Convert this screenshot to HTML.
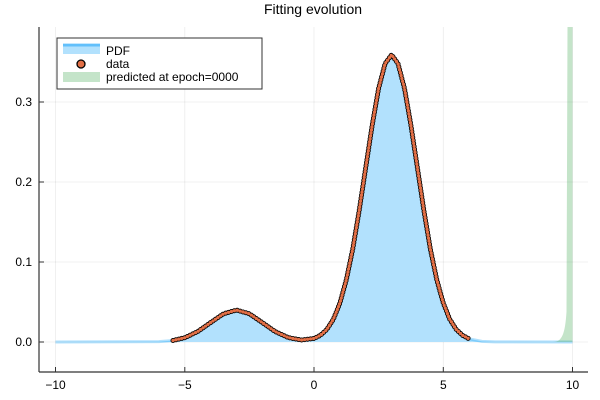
<!DOCTYPE html>
<html><head><style>body{margin:0;background:#fff}svg{display:block;font-family:"Liberation Sans",sans-serif}</style></head>
<body>
<svg width="600" height="400" xmlns="http://www.w3.org/2000/svg">
<rect width="600" height="400" fill="#fff"/>
<text x="313" y="14" font-size="14" text-anchor="middle" fill="#000">Fitting evolution</text>
<g stroke="#000" stroke-opacity="0.08" stroke-width="0.8">
<line x1="55.5" y1="27" x2="55.5" y2="372"/><line x1="184.8" y1="27" x2="184.8" y2="372"/><line x1="314" y1="27" x2="314" y2="372"/><line x1="443.3" y1="27" x2="443.3" y2="372"/><line x1="572.5" y1="27" x2="572.5" y2="372"/>
<line x1="39" y1="342" x2="588" y2="342"/><line x1="39" y1="262" x2="588" y2="262"/><line x1="39" y1="182" x2="588" y2="182"/><line x1="39" y1="102" x2="588" y2="102"/>
</g>
<path d="M55.5,342 L158.9,341.6 L171.8,340.6 L184.8,337.7 L197.7,331.6 L210.6,322.6 L223.5,313.8 L236.5,310.1 L249.4,313.8 L262.3,322.6 L275.2,331.6 L288.2,337.6 L301.1,340 L314,338.5 L320.5,335.3 L326.9,329.4 L333.4,319.2 L339.9,303.1 L346.3,279.9 L352.8,248.8 L359.2,210.5 L365.7,167.8 L372.2,125.2 L378.6,88.5 L385.1,63.6 L391.6,54.8 L398,63.6 L404.5,88.5 L410.9,125.2 L417.4,167.8 L423.9,210.5 L430.3,248.8 L436.8,279.9 L443.3,303.1 L449.7,319.2 L456.2,329.4 L462.6,335.4 L469.1,338.8 L482,341.4 L495,341.9 L572.5,342 Z" fill="rgb(178,225,253)"/>
<path d="M55.5,342 L158.9,341.6 L171.8,340.6 L184.8,337.7 L197.7,331.6 L210.6,322.6 L223.5,313.8 L236.5,310.1 L249.4,313.8 L262.3,322.6 L275.2,331.6 L288.2,337.6 L301.1,340 L314,338.5 L320.5,335.3 L326.9,329.4 L333.4,319.2 L339.9,303.1 L346.3,279.9 L352.8,248.8 L359.2,210.5 L365.7,167.8 L372.2,125.2 L378.6,88.5 L385.1,63.6 L391.6,54.8 L398,63.6 L404.5,88.5 L410.9,125.2 L417.4,167.8 L423.9,210.5 L430.3,248.8 L436.8,279.9 L443.3,303.1 L449.7,319.2 L456.2,329.4 L462.6,335.4 L469.1,338.8 L482,341.4 L495,341.9 L572.5,342" fill="none" stroke="rgba(0,154,249,0.3)" stroke-width="3"/>
<path d="M553,342 C562,342 565,334 566.5,312 L567.5,27 L572.5,27 L572.5,342 Z" fill="rgba(61,164,77,0.3)"/>
<g fill="none" stroke-linecap="round" stroke-dasharray="0 3">
<path d="M173,340.5 L184.8,337.7 L197.7,331.6 L210.6,322.6 L223.5,313.8 L236.5,310.1 L249.4,313.8 L262.3,322.6 L275.2,331.6 L288.2,337.6 L301.1,340 L314,338.5 L320.5,335.3 L326.9,329.4 L333.4,319.2 L339.9,303.1 L346.3,279.9 L352.8,248.8 L359.2,210.5 L365.7,167.8 L372.2,125.2 L378.6,88.5 L385.1,63.6 L391.6,54.8 L398,63.6 L404.5,88.5 L410.9,125.2 L417.4,167.8 L423.9,210.5 L430.3,248.8 L436.8,279.9 L443.3,303.1 L449.7,319.2 L456.2,329.4 L462.6,335.4 L469,338.8" stroke="#000" stroke-width="5"/>
<path d="M173,340.5 L184.8,337.7 L197.7,331.6 L210.6,322.6 L223.5,313.8 L236.5,310.1 L249.4,313.8 L262.3,322.6 L275.2,331.6 L288.2,337.6 L301.1,340 L314,338.5 L320.5,335.3 L326.9,329.4 L333.4,319.2 L339.9,303.1 L346.3,279.9 L352.8,248.8 L359.2,210.5 L365.7,167.8 L372.2,125.2 L378.6,88.5 L385.1,63.6 L391.6,54.8 L398,63.6 L404.5,88.5 L410.9,125.2 L417.4,167.8 L423.9,210.5 L430.3,248.8 L436.8,279.9 L443.3,303.1 L449.7,319.2 L456.2,329.4 L462.6,335.4 L469,338.8" stroke="#e26f46" stroke-width="3.3"/>
</g>
<line x1="39" y1="27" x2="39" y2="372" stroke="#333" stroke-width="1.2"/>
<line x1="39" y1="372" x2="588" y2="372" stroke="#333" stroke-width="1.2"/>
<g stroke="#333">
<line x1="55.5" y1="372" x2="55.5" y2="367"/><line x1="184.8" y1="372" x2="184.8" y2="367"/><line x1="314" y1="372" x2="314" y2="367"/><line x1="443.3" y1="372" x2="443.3" y2="367"/><line x1="572.5" y1="372" x2="572.5" y2="367"/>
<line x1="39" y1="342" x2="44" y2="342"/><line x1="39" y1="262" x2="44" y2="262"/><line x1="39" y1="182" x2="44" y2="182"/><line x1="39" y1="102" x2="44" y2="102"/>
</g>
<g font-size="12" fill="#000" text-anchor="middle">
<text x="55.5" y="389">−10</text><text x="184.8" y="389">−5</text><text x="314" y="389">0</text><text x="443.3" y="389">5</text><text x="572.5" y="389">10</text>
</g>
<g font-size="12" fill="#000" text-anchor="end">
<text x="32" y="346">0.0</text><text x="32" y="266">0.1</text><text x="32" y="186">0.2</text><text x="32" y="106">0.3</text>
</g>
<rect x="57" y="38" width="205" height="51" fill="#fff" stroke="#333" stroke-width="1"/>
<rect x="63" y="44" width="37" height="10" fill="rgb(178,225,253)"/>
<line x1="63" y1="45" x2="100" y2="45" stroke="rgba(0,154,249,0.45)" stroke-width="3"/>
<text x="106" y="55" font-size="12">PDF</text>
<circle cx="81" cy="64" r="4" fill="#e26f46" stroke="#000" stroke-width="1.3"/>
<text x="106" y="68" font-size="12">data</text>
<rect x="63" y="72" width="37" height="10" fill="rgba(61,164,77,0.3)"/>
<text x="106" y="81" font-size="12">predicted at epoch=0000</text>
</svg>
</body></html>
